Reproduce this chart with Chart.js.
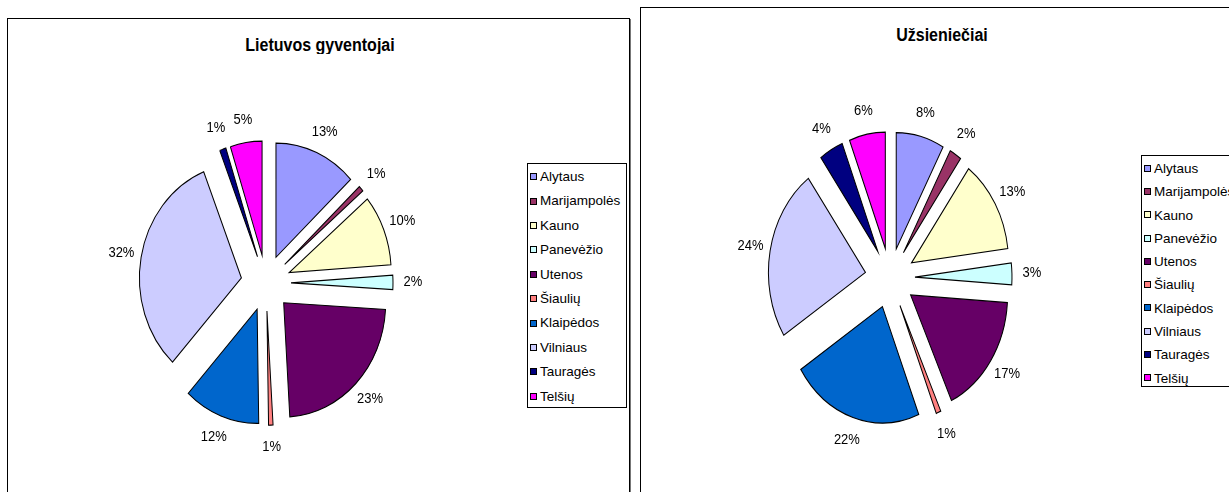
<!DOCTYPE html>
<html>
<head>
<meta charset="utf-8">
<script src="https://cdn.jsdelivr.net/npm/chart.js"></script>
<style>
  html, body { margin: 0; padding: 0; width: 1229px; height: 492px; overflow: hidden; background: #fff; }
  body { position: relative; font-family: Arial, "Liberation Sans", sans-serif; }
  .panel { position: absolute; border: 1px solid #000; box-shadow: 1px 1px 0 #777; background: #fff; }
  .title { position: absolute; font-weight: bold; font-size: 16px; line-height: 16px; text-align: center; white-space: nowrap; transform: scaleY(1.1); }
  .legend { position: absolute; border: 1px solid #000; background: #fff; font-size: 13.5px; box-sizing: border-box; padding-top: 1px; }
  .legend div { position: relative; padding-left: 12px; white-space: nowrap; }
  .legend span { position: absolute; left: 2px; top: 50%; margin-top: -4px; width: 5px; height: 5px; border: 1px solid #000; }
  canvas { position: absolute; }
</style>
</head>
<body>
<div class="panel" style="left:7px; top:18px; width:621px; height:500px;"></div>
<div class="panel" style="left:640px; top:7px; width:620px; height:510px;"></div>

<div class="title" style="left:220px; width:200px; top:37px;">Lietuvos gyventojai</div>
<div class="title" style="left:842px; width:200px; top:27px;">Užsieniečiai</div>

<canvas id="residents" width="420" height="420" style="left:56px; top:73px;"></canvas>
<canvas id="foreigners" width="420" height="420" style="left:680px; top:68px;"></canvas>

<div class="legend" id="legendLeft" style="left:527px; top:163px; width:100px; height:245px; line-height:24.4px;"></div>
<div class="legend" id="legendRight" style="left:1141px; top:155px; width:110px; height:232px; line-height:23.3px;"></div>

<script>
// regions (apskritys)
const regions = ['Alytaus', 'Marijampolės', 'Kauno', 'Panevėžio', 'Utenos', 'Šiaulių', 'Klaipėdos', 'Vilniaus', 'Tauragės', 'Telšių'];
const regionColors = ['#9999FF', '#993366', '#FFFFCC', '#CCFFFF', '#660066', '#FF8080', '#0066CC', '#CCCCFF', '#000080', '#FF00FF'];

// shares in %
const residents = [13, 0.8, 10, 2, 23, 0.7, 12, 32, 1, 5];
const foreigners = [8, 2, 13, 3, 17, 0.8, 22, 24, 4, 6];

// exploded slices, slightly stretched vertically like the original
const explodePlugin = {
  id: 'explode',
  beforeDatasetDraw(chart, args, opts) {
    const ctx = chart.ctx;
    args.meta.data.forEach(arc => {
      const mid = (arc.startAngle + arc.endAngle) / 2;
      ctx.save();
      ctx.translate(0, arc.y);
      ctx.scale(1, opts.scaleY);
      ctx.translate(0, -arc.y);
      ctx.translate(Math.cos(mid) * opts.distance, Math.sin(mid) * opts.distance);
      arc.draw(ctx);
      ctx.restore();
    });
    return false;
  },
  afterDatasetsDraw(chart, args, opts) {
    const ctx = chart.ctx;
    const meta = chart.getDatasetMeta(0);
    const values = chart.data.datasets[0].data;
    const total = values.reduce((a, b) => a + b, 0);
    ctx.save();
    ctx.font = '13px Arial, "Liberation Sans", sans-serif';
    ctx.fillStyle = '#000';
    ctx.textAlign = 'center';
    ctx.textBaseline = 'middle';
    meta.data.forEach((arc, i) => {
      const mid = (arc.startAngle + arc.endAngle) / 2;
      const r = arc.outerRadius + opts.distance + opts.gap;
      const x = arc.x + Math.cos(mid) * r;
      const y = arc.y + Math.sin(mid) * r * opts.scaleY;
      ctx.save();
      ctx.translate(x, y);
      ctx.scale(1, 1.1);
      ctx.fillText(Math.round(values[i] / total * 100) + '%', 0, 0);
      ctx.restore();
    });
    ctx.restore();
  }
};

function makePie(id, values, radius, scaleY) {
  new Chart(document.getElementById(id), {
    type: 'pie',
    data: {
      labels: regions,
      datasets: [{
        data: values,
        backgroundColor: regionColors,
        borderColor: '#000',
        borderWidth: 1,
        borderJoinStyle: 'miter'
      }]
    },
    options: {
      responsive: false,
      animation: false,
      radius: radius,
      layout: { padding: 0 },
      plugins: {
        legend: { display: false },
        tooltip: { enabled: false },
        explode: { distance: 25, gap: 20, scaleY: scaleY }
      }
    },
    plugins: [explodePlugin]
  });
}

function makeLegend(id) {
  const box = document.getElementById(id);
  regions.forEach((name, i) => {
    const row = document.createElement('div');
    const sw = document.createElement('span');
    sw.style.background = regionColors[i];
    row.appendChild(sw);
    row.appendChild(document.createTextNode(name));
    box.appendChild(row);
  });
}

makePie('residents', residents, 102, 1.12);
makePie('foreigners', foreigners, 97, 1.2);
makeLegend('legendLeft');
makeLegend('legendRight');
</script>
</body>
</html>
